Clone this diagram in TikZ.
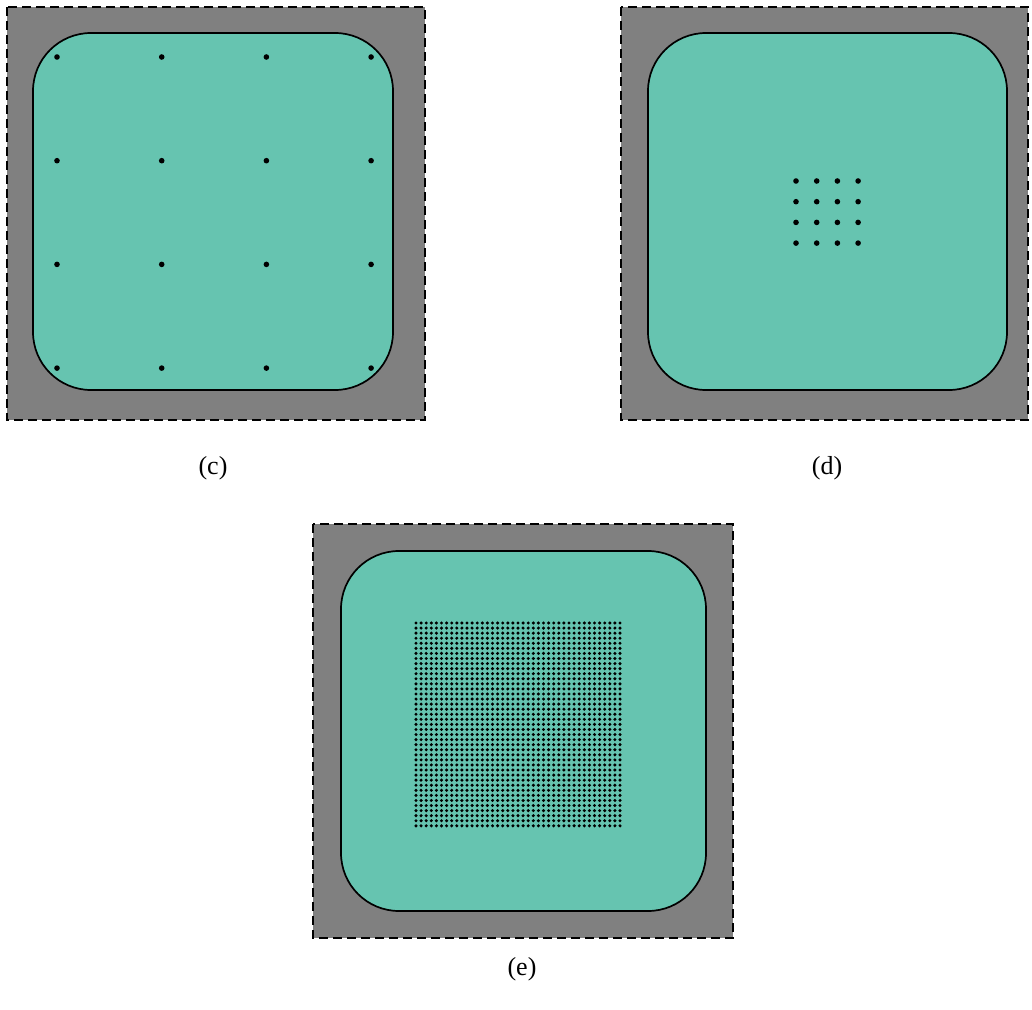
\documentclass[tikz,border=0pt]{standalone}
\usepackage{fontspec}
\setmainfont{Liberation Serif}
\definecolor{teal1}{RGB}{102,196,176}
\definecolor{gray1}{RGB}{128,128,128}
\tikzset{
  outerbox/.style={fill=gray1, draw=black, line width=1.1pt, dash pattern=on 4.5pt off 2.5pt},
  innerbox/.style={fill=teal1, draw=black, line width=0.85pt, rounded corners=29pt},
  lbl/.style={font=\fontsize{13}{15}\selectfont, inner sep=0pt}
}
\begin{document}
\begin{tikzpicture}[x=0.5pt,y=-0.5pt]
\useasboundingbox (0,0) rectangle (1032,1010);
% (c)
\draw[outerbox] (7,7) rectangle (425,420);
\draw[innerbox] (33,33) rectangle (393,390);
\foreach \i in {0,...,3}{\foreach \j in {0,...,3}{
  \fill ({57+\i*104.7},{57+\j*103.7}) circle[radius=1.4pt];}}
\node[lbl] (lc) at (213,468) {(c)};
% (d)
\draw[outerbox] (621,7) rectangle (1028,420);
\draw[innerbox] (648,33) rectangle (1007,390);
\foreach \i in {0,...,3}{\foreach \j in {0,...,3}{
  \fill ({796+\i*20.7},{181+\j*20.7}) circle[radius=1.4pt];}}
\node[lbl] (ld) at (827,468) {(d)};
% (e)
\draw[outerbox] (313,524) rectangle (733,938);
\draw[innerbox] (341,551) rectangle (706,911);
\foreach \i in {0,...,40}{\foreach \j in {0,...,40}{
  \fill ({416+\i*5.1},{623+\j*5.07}) circle[radius=0.85pt];}}
\node[lbl] (le) at (522,969) {(e)};
\end{tikzpicture}
\end{document}
